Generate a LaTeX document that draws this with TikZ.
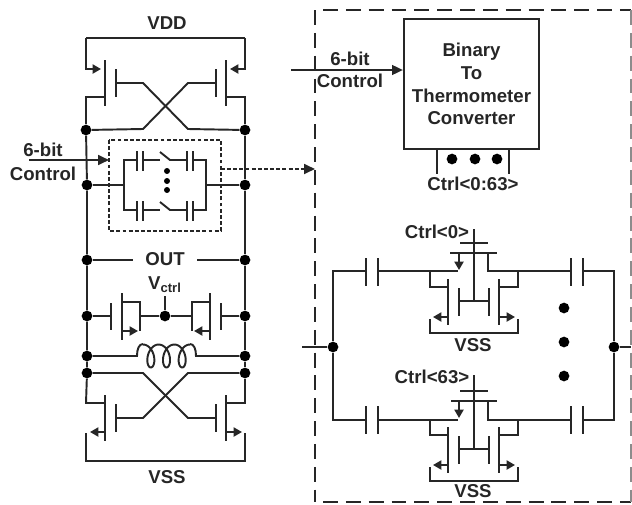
\documentclass[tikz,border=0pt]{standalone}
\usepackage{fontspec}
\setmainfont{Liberation Sans}
\usetikzlibrary{arrows.meta}
\tikzset{
  wire/.style={draw=black!85,line width=1.1pt,line join=miter},
  gatebar/.style={draw=black!85,line width=1.25pt},
  mosarrow/.style={wire,-{Triangle[length=4.8pt,width=5.2pt]}},
  sigarrow/.style={wire,-{Triangle[length=6.2pt,width=5.6pt]}},
  paneledge/.style={wire,line width=1.15pt,dash pattern=on 8.5pt off 4.5pt},
  dot/.style={circle,fill=black,inner sep=0pt,minimum size=6.1pt},
  smalldot/.style={circle,fill=black,inner sep=0pt,minimum size=3.4pt},
  lbl/.style={inner sep=0pt,text=black!85,font=\fontsize{10.6}{13}\selectfont\bfseries,align=center}
}
\begin{document}
\begin{tikzpicture}[x=0.02cm,y=0.02cm]
\useasboundingbox (0,0) rectangle (632,-504);
\node [dot] (topl) at (86,-130) {};
\node [dot] (topr) at (245,-130) {};
\node [dot] (midl) at (87,-185) {};
\node [dot] (midr) at (245,-185) {};
\node [dot] (outl) at (87,-260) {};
\node [dot] (outr) at (245,-260) {};
\node [dot] (varl) at (87,-316) {};
\node [dot] (varc) at (165,-316) {};
\node [dot] (varr) at (245,-316) {};
\node [dot] (indl) at (87,-356) {};
\node [dot] (indr) at (245,-356) {};
\node [dot] (botl) at (87,-373) {};
\node [dot] (botr) at (245,-373) {};
\node [lbl] (vdd) at (167,-23) {VDD};
\node [lbl] (out) at (165,-259) {OUT};
\node [lbl] (vctrl) at (165,-285) {V\textsubscript{ctrl}};
\node [lbl] (vssa) at (167,-477) {VSS};
\node [lbl] (bitl) at (43,-150) {6-bit};
\node [lbl] (ctll) at (43,-174) {Control};
\coordinate (vddl) at (86,-38);
\coordinate (vddr) at (245,-38);
% upper cross-coupled pair
\draw [wire] (vddl) -- (vddr);
\draw [mosarrow] (vddl) |- (101,-69);
\draw [mosarrow] (vddr) |- (230,-69);
\draw [gatebar] (105,-60) -- (105,-106);
\draw [gatebar] (226,-60) -- (226,-106);
\draw [gatebar] (116,-69) -- (116,-97);
\draw [gatebar] (216,-69) -- (216,-97);
\draw [wire] (105,-97) -- (86,-97) -- (topl);
\draw [wire] (226,-97) -- (245,-97) -- (topr);
\draw [wire] (116,-83) -- (143,-83) -- (188,-129) -- (topr);
\draw [wire] (216,-83) -- (188,-83) -- (143,-129) -- (topl);
% rails
\draw [wire] (topl) -- (midl) -- (outl) -- (varl) -- (indl) -- (botl);
\draw [wire] (topr) -- (midr) -- (outr) -- (varr) -- (indr) -- (botr);
% capacitor bank
\draw [gatebar,dash pattern=on 2.2pt off 1.3pt] (109,-140) rectangle (221,-231);
\draw [wire] (midl) -- (124,-185);
\draw [wire] (midr) -- (206,-185);
\draw [wire] (137,-160) -- (124,-160) -- (124,-210) -- (137,-210);
\draw [wire] (193,-160) -- (206,-160) -- (206,-210) -- (193,-210);
\draw [gatebar] (137,-151) -- (137,-171);
\draw [gatebar] (143,-151) -- (143,-171);
\draw [gatebar] (187,-151) -- (187,-171);
\draw [gatebar] (193,-151) -- (193,-171);
\draw [gatebar] (137,-201) -- (137,-221);
\draw [gatebar] (143,-201) -- (143,-221);
\draw [gatebar] (187,-201) -- (187,-221);
\draw [gatebar] (193,-201) -- (193,-221);
\draw [wire] (143,-160) -- (160,-160);
\draw [wire] (160,-152) -- (170,-160) -- (187,-160);
\draw [wire] (143,-210) -- (160,-210);
\draw [wire] (160,-202) -- (170,-210) -- (187,-210);
\node [smalldot] (bankdota) at (167,-171) {};
\node [smalldot] (bankdotb) at (167,-181) {};
\node [smalldot] (bankdotc) at (167,-190) {};
\coordinate (bitstart) at (29,-160);
\draw [sigarrow] (bitstart) -- (109,-160);
\coordinate (bankout) at (221,-169);
\coordinate (panelin) at (315,-169);
\draw [wire,line width=1.25pt,dash pattern=on 2.2pt off 1.3pt,-{Triangle[length=6.2pt,width=5.6pt]}] (bankout) -- (panelin);
% out and varactors
\coordinate (outgapl) at (133,-260);
\coordinate (outgapr) at (197,-260);
\draw [wire] (outl) -- (outgapl);
\draw [wire] (outr) -- (outgapr);
\draw [wire] (165,-296) -- (varc);
\draw [wire] (varl) -- (111,-316);
\draw [wire] (varr) -- (221,-316);
\draw [gatebar] (111,-303) -- (111,-330);
\draw [gatebar] (221,-303) -- (221,-330);
\draw [gatebar] (122,-293) -- (122,-340);
\draw [gatebar] (210,-293) -- (210,-340);
\draw [wire] (122,-302) -- (140,-302) -- (140,-331);
\draw [wire] (210,-302) -- (192,-302) -- (192,-331);
\draw [wire] (140,-316) -- (varc) -- (192,-316);
\draw [mosarrow] (122,-331) -- (138,-331);
\draw [mosarrow] (210,-331) -- (194,-331);
% inductor
\draw [wire] (indl) -- (137,-356) .. controls (137,-349) and (139,-344) .. (143,-344);
\draw [wire] (indr) -- (196,-356) .. controls (196,-349) and (194,-344) .. (190,-344);
\draw [wire,smooth] plot [domain=0:1080,samples=110] ({\x/1080*47+143+7*sin(\x)},{-356+11.5*cos(\x)});
% lower cross-coupled pair
\draw [wire] (botl) -- (143,-373) -- (188,-418) -- (216,-418);
\draw [wire] (botr) -- (188,-373) -- (143,-418) -- (116,-418);
\draw [gatebar] (105,-395) -- (105,-441);
\draw [gatebar] (226,-395) -- (226,-441);
\draw [gatebar] (116,-404) -- (116,-432);
\draw [gatebar] (216,-404) -- (216,-432);
\draw [wire] (botl) -- (86,-403) -- (105,-403);
\draw [wire] (botr) -- (245,-403) -- (226,-403);
\draw [mosarrow] (105,-432) -- (90,-432);
\draw [mosarrow] (226,-432) -- (242,-432);
\draw [wire] (86,-433) -- (86,-461) -- (245,-461) -- (245,-433);
% control panel
\draw [paneledge] (323,-10) -- (631,-10);
\draw [paneledge] (323,-502) -- (631,-502);
\draw [paneledge] (315,-10) -- (315,-502);
\draw [paneledge,black!45,line width=0.7pt] (631,-10) -- (631,-502);
\node [lbl,draw=black!85,line width=1.1pt,minimum width=77pt,minimum height=73.5pt] (conv) at (471.5,-84) {Binary\\To\\Thermometer\\Converter};
\node [lbl] (bitr) at (350,-59) {6-bit};
\node [lbl] (ctlr) at (350,-81) {Control};
\coordinate (convin) at (291,-70);
\draw [sigarrow] (convin) -- (convin -| conv.west);
\draw [wire] (437,-149) -- (437,-174);
\draw [wire] (509,-149) -- (509,-174);
\node [dot] (busa) at (452,-159) {};
\node [dot] (busb) at (475,-159) {};
\node [dot] (busc) at (497,-159) {};
\node [lbl] (bus) at (473,-184) {Ctrl<0:63>};
\node [dot] (panl) at (333,-347) {};
\node [dot] (panr) at (614,-347) {};
\coordinate (panlin) at (302,-347);
\coordinate (panrout) at (631,-347);
\draw [wire] (panlin) -- (panl);
\draw [wire] (panr) -- (panrout);
\node [dot] (rowa) at (564,-308) {};
\node [dot] (rowb) at (564,-342) {};
\node [dot] (rowc) at (564,-376) {};
% switch 0
\node [lbl] (ctrla) at (437,-232) {Ctrl<0>};
\draw [wire] (panl) |- (366,-271);
\draw [wire] (panr) |- (583,-271);
\draw [gatebar] (366,-258) -- (366,-286);
\draw [gatebar] (378,-258) -- (378,-286);
\draw [gatebar] (571,-258) -- (571,-286);
\draw [gatebar] (583,-258) -- (583,-286);
\draw [wire] (378,-271) -- (458,-271);
\draw [wire] (571,-271) -- (488,-271) -- (488,-253);
\draw [wire] (450,-253) -- (497,-253);
\draw [wire] (460,-243) -- (488,-243);
\draw [wire] (474,-229) -- (474,-301);
\draw [mosarrow] (459,-253) -- (459,-270);
\draw [wire] (459,-301) -- (489,-301);
\draw [gatebar] (459,-288) -- (459,-316);
\draw [gatebar] (489,-288) -- (489,-316);
\draw [gatebar] (448,-279) -- (448,-325);
\draw [gatebar] (499,-279) -- (499,-325);
\draw [wire] (430,-271) -- (430,-287) -- (448,-287);
\draw [wire] (518,-271) -- (518,-287) -- (499,-287);
\draw [mosarrow] (448,-317) -- (433,-317);
\draw [mosarrow] (499,-317) -- (515,-317);
\draw [wire] (430,-319) -- (430,-333) -- (518,-333) -- (518,-319);
\node [lbl] (vssb) at (473,-345) {VSS};
% switch 63
\node [lbl] (ctrlb) at (432,-377) {Ctrl<63>};
\draw [wire] (panl) |- (366,-420);
\draw [wire] (panr) |- (583,-420);
\draw [gatebar] (366,-406) -- (366,-434);
\draw [gatebar] (378,-406) -- (378,-434);
\draw [gatebar] (571,-406) -- (571,-434);
\draw [gatebar] (583,-406) -- (583,-434);
\draw [wire] (378,-420) -- (458,-420);
\draw [wire] (571,-420) -- (488,-420) -- (488,-401);
\draw [wire] (451,-401) -- (497,-401);
\draw [wire] (460,-391) -- (488,-391);
\draw [wire] (474,-375) -- (474,-449);
\draw [mosarrow] (459,-401) -- (459,-418);
\draw [wire] (459,-449) -- (489,-449);
\draw [gatebar] (459,-436) -- (459,-464);
\draw [gatebar] (489,-436) -- (489,-464);
\draw [gatebar] (448,-427) -- (448,-473);
\draw [gatebar] (499,-427) -- (499,-473);
\draw [wire] (430,-420) -- (430,-435) -- (448,-435);
\draw [wire] (518,-420) -- (518,-435) -- (499,-435);
\draw [mosarrow] (448,-465) -- (433,-465);
\draw [mosarrow] (499,-465) -- (515,-465);
\draw [wire] (430,-467) -- (430,-481) -- (518,-481) -- (518,-467);
\node [lbl] (vssc) at (473,-491) {VSS};
\end{tikzpicture}
\end{document}
